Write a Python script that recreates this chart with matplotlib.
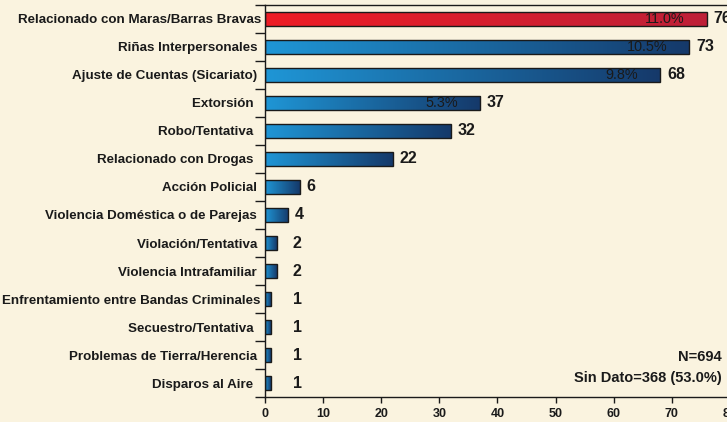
import matplotlib
matplotlib.use("Agg")
import matplotlib.pyplot as plt
import numpy as np

plt.rcParams["font.family"] = ["Liberation Sans", "DejaVu Sans"]

# -- Data ---------------------------------------------------------------------
categories = [
    "Relacionado con Maras/Barras Bravas",
    "Riñas Interpersonales ",
    "Ajuste de Cuentas (Sicariato) ",
    "Extorsión  ",
    "Robo/Tentativa  ",
    "Relacionado con Drogas  ",
    "Acción Policial ",
    "Violencia Doméstica o de Parejas ",
    "Violación/Tentativa ",
    "Violencia Intrafamiliar ",
    "Enfrentamiento entre Bandas Criminales",
    "Secuestro/Tentativa  ",
    "Problemas de Tierra/Herencia ",
    "Disparos al Aire  ",
]
counts = [76, 73, 68, 37, 32, 22, 6, 4, 2, 2, 1, 1, 1, 1]
pct_labels = ["11.0%", "10.5%", "9.8%", "5.3%"] + [""] * 10
notes = ["N=694", "Sin Dato=368 (53.0%)"]

BG = "#FAF3DF"
INK = "#1a1a1a"
BLUE = ("#1F96D6", "#15396A")
RED = ("#EE1C25", "#BE2038")

fig = plt.figure(figsize=(7.27, 4.22), dpi=100, facecolor=BG)
ax = fig.add_axes([0.3645, 0.0592, 0.6396, 0.929], facecolor=BG)

y = np.arange(len(categories))
bars = ax.barh(y, counts, height=0.5, color="none", edgecolor=INK,
               lw=1.0, zorder=3)

# horizontal gradient fill, clipped to each bar
grad = np.linspace(0, 1, 256).reshape(1, -1)
for i, bar in enumerate(bars):
    c0, c1 = RED if i == 0 else BLUE
    cmap = matplotlib.colors.LinearSegmentedColormap.from_list("g", [c0, c1])
    x0, y0 = bar.get_x(), bar.get_y()
    im = ax.imshow(grad, cmap=cmap, aspect="auto", zorder=2,
                   extent=(x0, x0 + bar.get_width(), y0, y0 + bar.get_height()))
    im.set_clip_path(bar)

for i, v in enumerate(counts):
    ax.annotate(str(v), (max(v, 3.6), i), xytext=(5, 0),
                textcoords="offset points", ha="left", va="center",
                fontsize=11.5, fontweight="bold", color=INK)
    if pct_labels[i]:
        ax.annotate(pct_labels[i], (v, i), xytext=(-16, 0),
                    textcoords="offset points", ha="right", va="center",
                    fontsize=10.4, color=INK, zorder=4)

ax.set_xlim(0, 80)
ax.set_ylim(len(categories) - 0.5, -0.5)
ax.set_xticks(range(0, 81, 10))
ax.tick_params(axis="x", labelsize=9, length=4, width=1, pad=4, colors=INK)
for t in ax.get_xticklabels():
    t.set_fontweight("bold")

ax.set_yticks(y)
ax.set_yticklabels(categories, fontsize=9.6, fontweight="bold", color=INK)
ax.tick_params(axis="y", which="major", length=0, pad=3)
ax.set_yticks(np.arange(-0.5, len(categories), 1), minor=True)
ax.tick_params(axis="y", which="minor", length=7, width=1, color=INK)

for s in ["left", "bottom", "top"]:
    ax.spines[s].set_linewidth(1.0)
    ax.spines[s].set_color(INK)
ax.spines["right"].set_visible(False)

ax.text(0.983, 0.102, notes[0], transform=ax.transAxes, ha="right",
        va="center", fontsize=10.5, fontweight="bold", color=INK)
ax.text(0.983, 0.048, notes[1], transform=ax.transAxes, ha="right",
        va="center", fontsize=10.5, fontweight="bold", color=INK)

fig.savefig("out.png", dpi=100, facecolor=BG)
